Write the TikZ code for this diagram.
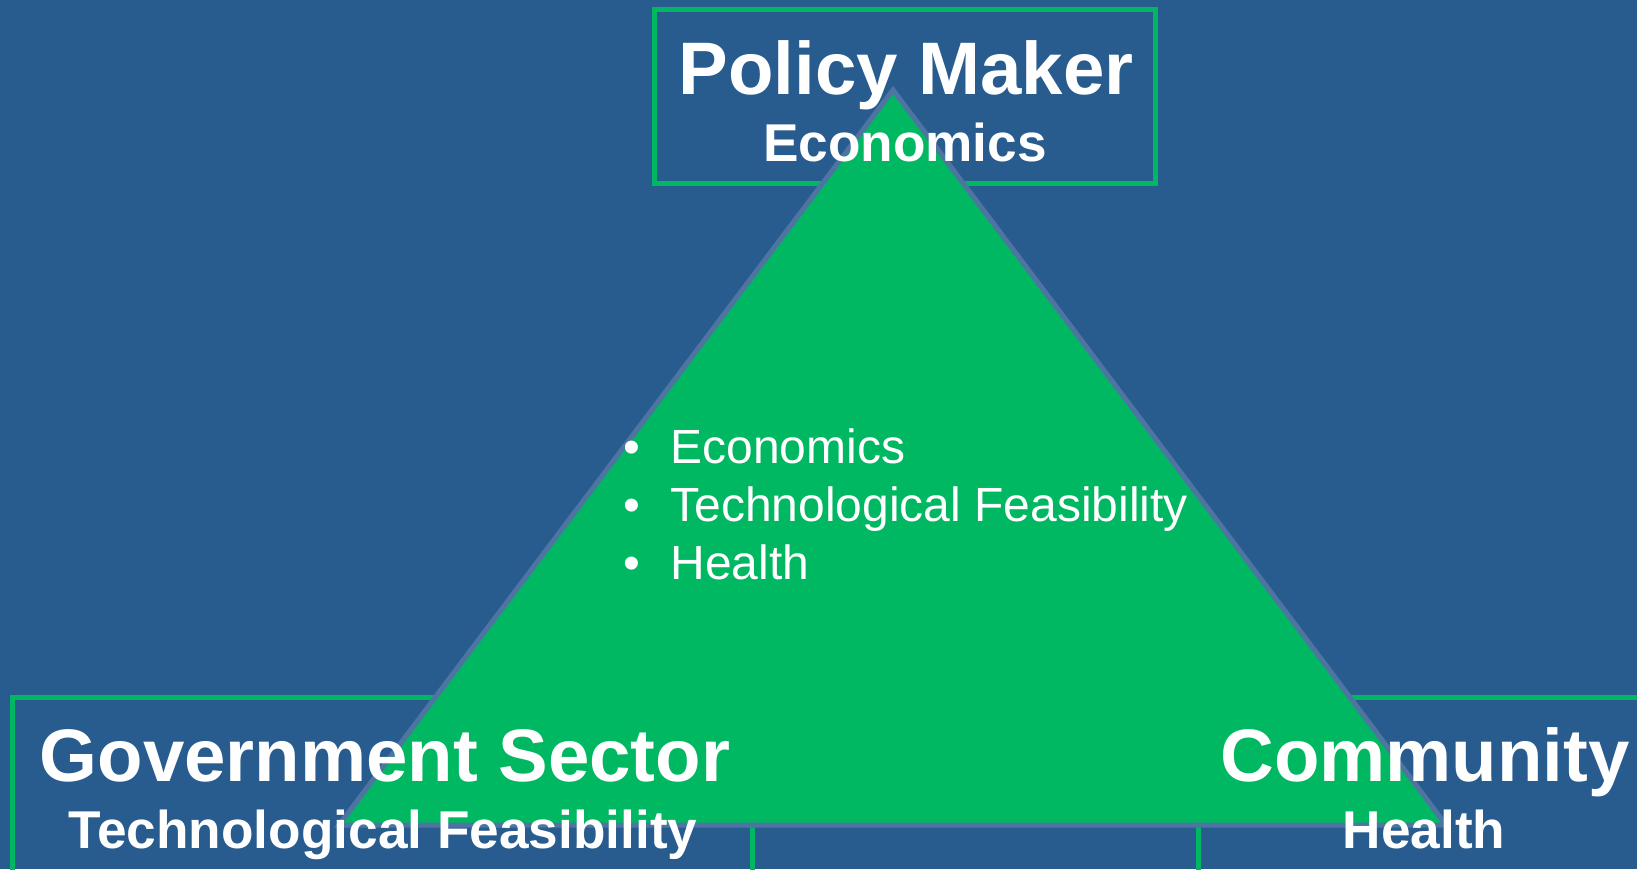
\documentclass[tikz,border=0pt]{standalone}
\usepackage{fontspec}
\setmainfont{Liberation Sans}
\definecolor{slide blue}{RGB}{40,92,143}
\definecolor{slide green}{RGB}{0,184,98}
\definecolor{edge blue}{RGB}{78,116,162}

\begin{document}
\begin{tikzpicture}[x=0.5pt,y=-0.5pt,
	rolebox/.style={draw=slide green, line width=2.5pt},
	role/.style={text=white, font=\fontsize{37.2}{40}\selectfont\bfseries, inner sep=0pt, anchor=base},
	topic/.style={text=white, font=\fontsize{26.6}{30}\selectfont\bfseries, inner sep=0pt, anchor=base},
	point/.style={text=white, font=\fontsize{24}{28}\selectfont, inner sep=0pt, anchor=base west}]
			\fill[slide blue] (0,0) rectangle (1637,869);
			\useasboundingbox (0,0) rectangle (1637,869);
			% boxes behind the triangle
			\draw[rolebox] (654,9) rectangle (1155,183);
			\draw[rolebox] (12,697) rectangle (752,900);
			\draw[rolebox] (1198,697) rectangle (1700,900);
			\draw[fill=slide green, draw=edge blue, line width=2.5pt, line join=miter] (893,90) -- (1446,825) -- (339,825) -- cycle;
			\node[role] (policy) at (906,94) {Policy Maker};
			\node[topic] (policy-econ) at (905,161) {Economics};
			\node[role] (gov) at (385,781) {Government Sector};
			\node[topic] (gov-tech) at (383,848) {Technological Feasibility};
			\node[role] (comm) at (1425,781) {Community};
			\node[topic] (comm-health) at (1424,848) {Health};
			\foreach \y/\t in {463/Economics, 521/Technological Feasibility, 579/Health}{
				\node[point] (dot-\y) at (623,\y) {•};
				\node[point] (item-\y) at (670,\y) {\t};
			}
		\end{tikzpicture}
\end{document}
